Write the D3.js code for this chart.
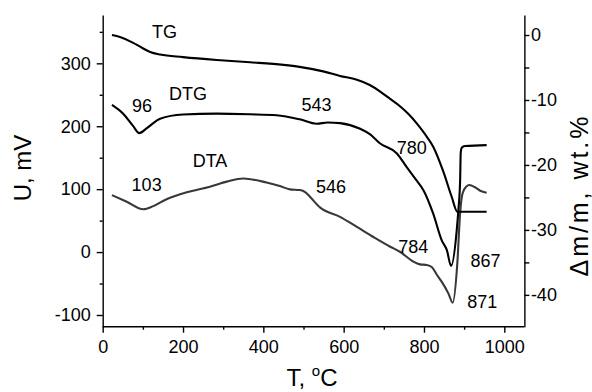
<!DOCTYPE html>
<html><head><meta charset="utf-8">
<script src="https://cdn.jsdelivr.net/npm/d3@7"></script>
<style>
body{margin:0;background:#fff}
text{font-family:"Liberation Sans",Arial,sans-serif;fill:#000}
</style>
</head><body>
<svg id="c" width="592" height="392"></svg>
<script>
// ---- data ----
const tgT  = [23, 43, 76, 93, 118, 143, 200, 284, 367, 450, 490, 549, 591, 633, 665, 691, 715, 741, 762, 782, 803, 823, 848, 869, 883, 900, 956];
const tgW  = [0, -0.3, -1.2, -1.8, -2.6, -3.0, -3.4, -3.85, -4.2, -4.6, -4.9, -5.6, -6.3, -6.9, -7.7, -8.7, -9.8, -11.0, -12.2, -13.6, -15.3, -17.2, -21.0, -24.9, -27.2, -27.2, -27.2];

const dtgT = [23, 51, 75, 91, 110, 143, 200, 284, 367, 433, 491, 533, 560, 591, 641, 666, 691, 732, 757, 780, 799, 823, 844, 857, 867.5, 881.6, 885.7, 890, 891.5, 894, 902, 956];
const dtgU = [234, 220, 201, 189, 197, 212, 218.6, 220, 219, 217.5, 211, 204, 206, 205, 196, 187, 172.5, 157, 135, 115, 98, 61, 19, 3, -22, 35, 67, 114, 158, 166, 168.5, 170];

const dtaT = [23, 60, 101, 126, 159, 209, 267, 309, 350, 408, 441, 466, 491, 505, 516, 541, 591, 633, 674, 716, 740, 773, 790, 807, 820, 832, 844, 861, 871.5, 883, 890, 896, 905, 913, 927, 940, 956];
const dtaU = [90.5, 80, 68, 73, 84, 95, 104, 112, 117, 110.6, 105, 99.7, 98.6, 95, 88, 71, 56, 40, 24, 8.5, 0.5, -15, -19.5, -20.5, -24, -36, -47, -66, -80.5, -18, 62, 93, 104, 106.5, 103, 97.5, 94.4];

const xTicks = [0, 200, 400, 600, 800, 1000];
const xMinor = [100, 300, 500, 700, 900];
const yLTicks = [-100, 0, 100, 200, 300];
const yLMinor = [-50, 50, 150, 250, 350];
const yRTicks = [0, -10, -20, -30, -40];
const yRMinor = [-5, -15, -25, -35];

const labelText = ["TG", "DTG", "96", "543", "780", "DTA", "103", "546", "784", "867", "871"];
const labelT    = [123, 165, 73, 495, 732, 224, 72, 531, 736, 916, 908];
const labelU    = [340, 242, 222, 223.5, 156, 136, 96.5, 94, -1.4, -23, -89];

// ---- scales ----
const L = 102.7, T = 15, B = 326.7;
const x  = d3.scaleLinear().domain([0, 1050]).range([L, L + 1050 * 0.4016]);
const yL = d3.scaleLinear().domain([-118.6, 376.8]).range([B, T]);
const yR = d3.scaleLinear().domain([-44.9, 3.08]).range([B, T]);

const svg = d3.select("#c");
const fs = 18;

function styleAxis(g, w) {
  g.selectAll("path.domain").attr("stroke", "#000").attr("stroke-width", w);
  g.selectAll(".tick line").attr("stroke", "#000").attr("stroke-width", w);
  g.selectAll(".tick text").attr("font-size", fs).attr("font-family", '"Liberation Sans",Arial,sans-serif').attr("fill", "#000");
}
const fmt = d => (d < 0 ? "-" + Math.abs(d) : "" + d);

// bottom axis
const gb = svg.append("g").attr("transform", `translate(0,${B})`)
  .call(d3.axisBottom(x).tickValues(xTicks).tickSize(6).tickSizeOuter(0).tickPadding(8).tickFormat(fmt));
styleAxis(gb, 1.4);
gb.select("path.domain").attr("d", `M${L},0H${x.range()[1]}`);
const gbm = svg.append("g").attr("transform", `translate(0,${B})`)
  .call(d3.axisBottom(x).tickValues(xMinor).tickSize(3).tickSizeOuter(0).tickFormat(""));
gbm.select("path.domain").remove();
styleAxis(gbm, 1.4);

// left axis
const gl = svg.append("g").attr("transform", `translate(${L},0)`)
  .call(d3.axisLeft(yL).tickValues(yLTicks).tickSize(6).tickSizeOuter(0).tickPadding(6).tickFormat(fmt));
styleAxis(gl, 1.4);
const glm = svg.append("g").attr("transform", `translate(${L},0)`)
  .call(d3.axisLeft(yL).tickValues(yLMinor).tickSize(3).tickSizeOuter(0).tickFormat(""));
glm.select("path.domain").remove();
styleAxis(glm, 1.4);

// right axis
const xr = x.range()[1];
const gr = svg.append("g").attr("transform", `translate(${xr},0)`)
  .call(d3.axisRight(yR).tickValues(yRTicks).tickSize(5).tickSizeOuter(0).tickPadding(1.5).tickFormat(fmt));
styleAxis(gr, 1.4);
const grm = svg.append("g").attr("transform", `translate(${xr},0)`)
  .call(d3.axisRight(yR).tickValues(yRMinor).tickSize(5).tickSizeOuter(0).tickFormat(""));
grm.select("path.domain").remove();
styleAxis(grm, 1.4);

// ---- curves ----
const curve = d3.curveMonotoneX;
const lineL = d3.line().x(d => x(d[0])).y(d => yL(d[1])).curve(curve);
const lineR = d3.line().x(d => x(d[0])).y(d => yR(d[1])).curve(curve);

svg.append("path").datum(dtaT.map((t, i) => [t, dtaU[i]]))
  .attr("d", lineL).attr("fill", "none").attr("stroke", "#383838").attr("stroke-width", 2.1).attr("stroke-linejoin", "round");
svg.append("path").datum(dtgT.map((t, i) => [t, dtgU[i]]))
  .attr("d", lineL).attr("fill", "none").attr("stroke", "#000").attr("stroke-width", 2.1).attr("stroke-linejoin", "round");
svg.append("path").datum(tgT.map((t, i) => [t, tgW[i]]))
  .attr("d", lineR).attr("fill", "none").attr("stroke", "#000").attr("stroke-width", 2.1).attr("stroke-linejoin", "round");

// ---- annotations ----
svg.append("g").selectAll("text").data(labelText).join("text")
  .attr("x", (d, i) => x(labelT[i]))
  .attr("y", (d, i) => yL(labelU[i]))
  .attr("font-size", fs)
  .text(d => d);

// ---- axis titles ----
svg.append("text").attr("transform", "translate(31,168) rotate(-90)")
  .attr("text-anchor", "middle").attr("font-size", 24).text("U, mV");

const xt = svg.append("text").attr("x", 312).attr("y", 386).attr("text-anchor", "middle").attr("font-size", 24);
xt.append("tspan").text("T, ");
xt.append("tspan").attr("font-size", 15).attr("dy", -10).text("o");
xt.append("tspan").attr("dy", 10).text("C");

svg.append("text").attr("transform", "translate(588,196.5) rotate(-90)")
  .attr("text-anchor", "middle").attr("font-size", 25)
  .attr("textLength", 160).attr("lengthAdjust", "spacing")
  .text("\u0394m/m, wt.%");
</script>
</body></html>
